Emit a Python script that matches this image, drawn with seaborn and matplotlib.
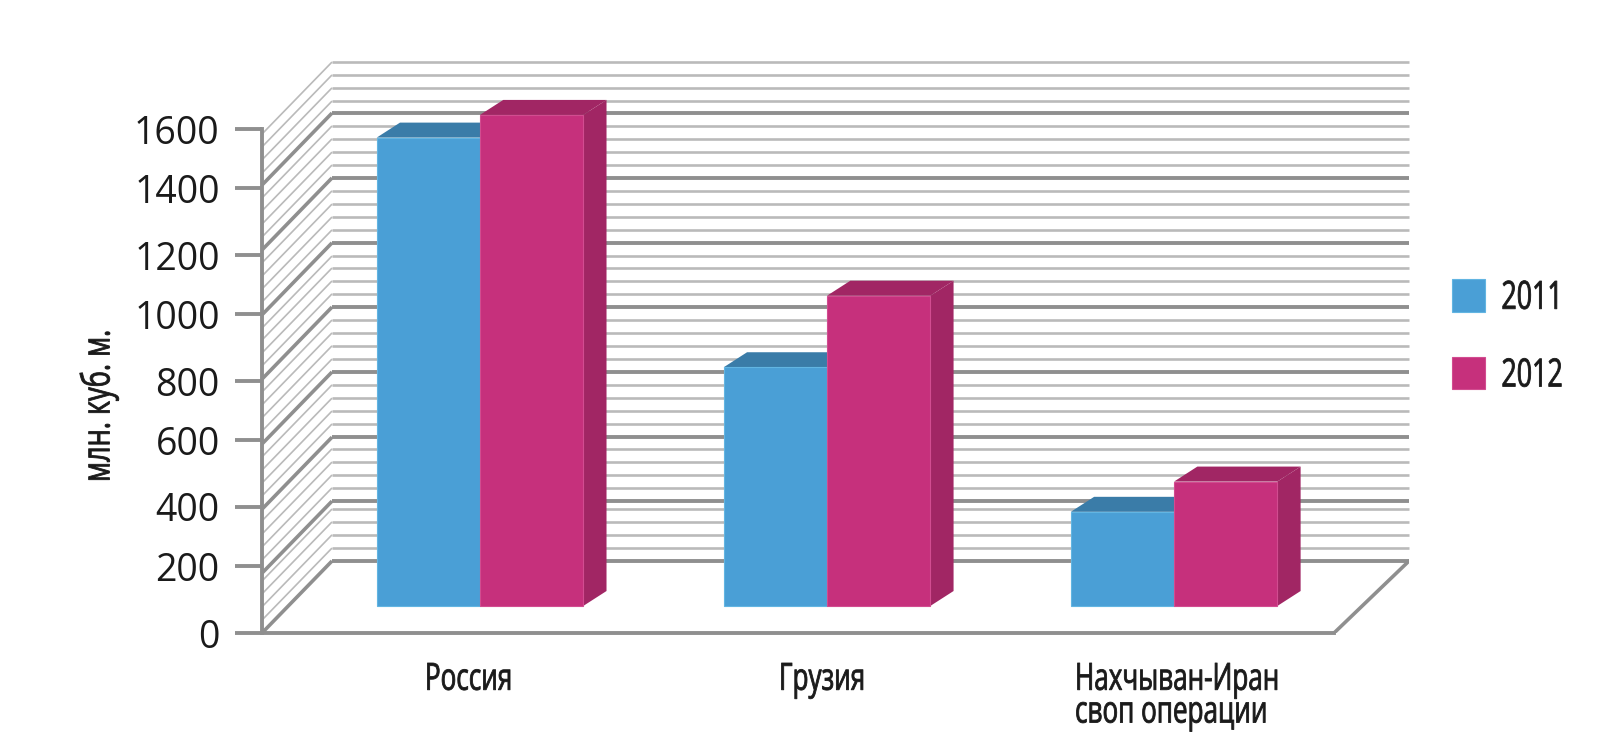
import matplotlib
matplotlib.use("Agg")
import matplotlib.pyplot as plt
from matplotlib.patches import Patch
from matplotlib.patheffects import AbstractPathEffect
from matplotlib.transforms import Affine2D
import pandas as pd
import seaborn as sns

# Values
categories = ["Россия", "Грузия", "Нахчыван-Иран\nсвоп операции"]
values_2011 = [1487, 758, 299]
values_2012 = [1559, 985, 395]
years = ["2011", "2012"]

# Front axis: the ticks of the source artwork are not evenly spaced
tick_labels = ["0", "200", "400", "600", "800", "1000", "1200", "1400", "1600"]
tick_positions = [0, 212, 401, 612, 800, 1012, 1200, 1412, 1599]
label_positions = [-0.1585, 0.8617, 1.7147]

# Back wall grid levels (heavy and light lines)
wall_major = [0, 190, 393, 600, 806, 1010, 1216, 1422]
wall_minor = [41, 83, 124, 165, 232, 273, 314, 356, 435, 476, 517, 559,
              641, 683, 724, 765, 848, 889, 930, 968, 1051, 1092, 1133, 1175,
              1257, 1298, 1340, 1381, 1460, 1502, 1543, 1584]

COLORS = {"2011": "#4A9FD6", "2012": "#C6307C"}
EDGES = {"2011": "#62B5E2", "2012": "#D24C90"}
DARK = {"2011": "#3A7CA8", "2012": "#A12664"}
GREY_MAJOR = "#8F8F8F"
GREY_MINOR = "#BABABA"
TEXT = "#1A1A1A"

# 3D look
BASE = 85.7           # bars stand a bit behind the front edge
BAR_DX, BAR_DY = 0.0672, 47.6     # depth of a bar
WALL_DX, WALL_DY = 0.2017, 228.6  # depth of the floor
XMIN, XMAX = -0.628, 2.677
FLOOR_FRONT_RIGHT = 2.461


class Squeeze(AbstractPathEffect):
    # no condensed font here, so narrow the glyphs along the text direction
    def __init__(self, factor, bold=0.6):
        self.factor = factor
        self.bold = bold

    def draw_path(self, renderer, gc, tpath, affine, rgbFace=None):
        gc0 = renderer.new_gc()
        gc0.copy_properties(gc)
        gc0.set_linewidth(self.bold)
        gc0.set_foreground(rgbFace)
        renderer.draw_path(gc0, tpath, Affine2D().scale(self.factor, 1) + affine, rgbFace)
        gc0.restore()


sns.set_theme(style="white")
plt.rcParams["font.family"] = ["Open Sans", "DejaVu Sans"]

df = pd.DataFrame({
    "category": categories * 2,
    "year": [years[0]] * 3 + [years[1]] * 3,
    "value": values_2011 + values_2012,
})

fig = plt.figure(figsize=(16, 7.44), dpi=100, facecolor="white")
ax = fig.add_axes([262 / 1600, 1 - 633 / 744, (1409 - 262) / 1600, (633 - 62) / 744])

sns.barplot(
    data=df, x="category", y="value", hue="year", hue_order=years,
    palette=COLORS, width=0.595, saturation=1, errorbar=None, legend=False,
    bottom=BASE, ax=ax, zorder=5,
)

ax.set_xlim(XMIN, XMAX)
ax.set_ylim(0, 1812.7)
ax.patch.set_alpha(0)

# Top and side faces of each bar
for year, container in zip(years, ax.containers):
    for bar in container:
        bar.set_edgecolor(EDGES[year])
        bar.set_linewidth(0.8)
        x0, x1 = bar.get_x(), bar.get_x() + bar.get_width()
        y0, y1 = bar.get_y(), bar.get_y() + bar.get_height()
        ax.fill([x0, x0 + BAR_DX, x1 + BAR_DX, x1],
                [y1, y1 + BAR_DY, y1 + BAR_DY, y1],
                color=DARK[year], lw=0, zorder=4)
        ax.fill([x1, x1 + BAR_DX, x1 + BAR_DX, x1],
                [y0, y0 + BAR_DY, y1 + BAR_DY, y1],
                color=DARK[year], lw=0, zorder=4)

# Wall: horizontal line on the back, diagonal on the left side
x_back = XMIN + WALL_DX
for levels, color, lw, lw_diag in [(wall_minor, GREY_MINOR, 1.9, 1.2), (wall_major, GREY_MAJOR, 2.8, 2.6)]:
    for v in levels:
        ax.plot([x_back, XMAX], [v + WALL_DY, v + WALL_DY], color=color, lw=lw,
                solid_capstyle="butt", zorder=2, clip_on=False)
        ax.plot([XMIN, x_back], [v, v + WALL_DY], color=color, lw=lw_diag,
                solid_capstyle="butt", zorder=2, clip_on=False)

# Floor right edge
ax.plot([FLOOR_FRONT_RIGHT, XMAX], [0, WALL_DY], color=GREY_MAJOR, lw=2.6,
        solid_capstyle="round", zorder=2)

# Axes
sns.despine(ax=ax, top=True, right=True)
ax.spines["left"].set_bounds(0, 1599)
ax.spines["bottom"].set_bounds(XMIN, FLOOR_FRONT_RIGHT)
for side in ["left", "bottom"]:
    ax.spines[side].set_color(GREY_MAJOR)
    ax.spines[side].set_linewidth(2.8)
    ax.spines[side].set_zorder(3)

ax.set_yticks(tick_positions, tick_labels, fontsize=27, color=TEXT)
ax.tick_params(axis="y", length=19.5, width=2.8, color=GREY_MAJOR, pad=11, left=True)
ax.set_xticks(label_positions, categories, fontsize=27, color=TEXT, linespacing=0.82)
for lab in ax.get_xticklabels():
    lab.set_horizontalalignment("left")
    lab.set_multialignment("left")
    lab.set_path_effects([Squeeze(0.695)])
ax.tick_params(axis="x", length=0, pad=20)

ax.set_xlabel("")
ax.set_ylabel("")
fig.text(99 / 1600, 1 - 482 / 744, "млн. куб. м.", rotation=90, ha="center", va="bottom",
         fontsize=28, color=TEXT, path_effects=[Squeeze(0.70)])

handles = [Patch(facecolor=COLORS[y], edgecolor=EDGES[y], linewidth=0.8) for y in years]
leg = fig.legend(
    handles, years, loc="upper left", bbox_to_anchor=(1452 / 1600, 1 - 279 / 744),
    frameon=False, fontsize=28, labelcolor=TEXT, borderpad=0, borderaxespad=0,
    handlelength=0.85, handleheight=0.92, handletextpad=0.42, labelspacing=1.0,
)
for t in leg.get_texts():
    t.set_path_effects([Squeeze(0.69)])

fig.savefig("out.png", dpi=100, facecolor="white")
